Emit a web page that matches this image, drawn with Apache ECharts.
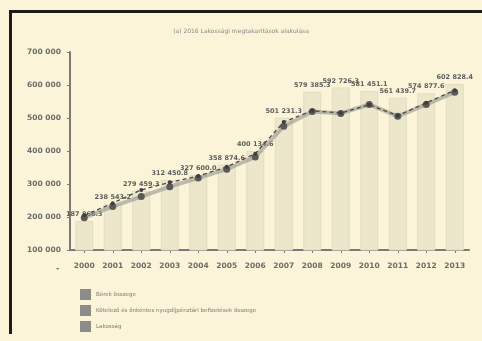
<!DOCTYPE html>
<html>
<head>
<meta charset="utf-8">
<script src="https://cdn.jsdelivr.net/npm/echarts@6/dist/echarts.min.js"></script>
<style>
  html, body { margin: 0; padding: 0; background: #fbf4d8; }
  #frame { position: absolute; left: 9px; top: 10px; width: 478px; height: 324px;
           border-left: 3px solid #1c1c1c; border-top: 3px solid #1c1c1c; box-sizing: border-box; }
  #chart { position: absolute; left: 0; top: 0; width: 482px; height: 341px; }
</style>
</head>
<body>
<div id="frame"></div>
<div id="chart"></div>
<script>
// Years on the category axis
const years = ['2000','2001','2002','2003','2004','2005','2006','2007','2008','2009','2010','2011','2012','2013'];

// Column series (labelled values)
const berek = [187868.3, 238543.2, 279459.3, 312450.8, 327600.0, 358874.6, 400134.6, 501231.3, 579385.3, 592726.3, 581451.1, 561439.7, 574877.6, 602828.4];

// Solid line with round markers
const nyugdij = [198000, 232000, 262000, 292000, 318000, 345000, 382000, 475000, 520000, 514000, 541000, 505000, 541000, 578000];

// Dashed line
const lakossag = [205000, 242000, 282000, 305000, 324000, 352000, 392000, 488000, 522000, 515000, 540000, 507000, 546000, 584000];

// Axis tick values
const yMin = 100000, yMax = 700000, yStep = 100000;

const seriesNames = [
  'Bérek összege',
  'Kötelező és önkéntes nyugdíjpénztári befizetések összege',
  'Lakosság'
];

function fmt(v, dec) {
  const s = v.toFixed(dec);
  const parts = s.split('.');
  const intPart = parts[0].replace(/\B(?=(\d{3})+(?!\d))/g, ' ');
  return parts.length > 1 ? intPart + '.' + parts[1] : intPart;
}

const chart = echarts.init(document.getElementById('chart'), null, { renderer: 'canvas' });
const axisGrey = '#7a7a78';
const textGrey = '#6c6c6a';

chart.setOption({
  backgroundColor: 'transparent',
  animation: false,
  title: {
    text: '(a) 2016 Lakossági megtakarítások alakulása',
    left: 'center', top: 23,
    textStyle: { fontFamily: 'DejaVu Sans', fontSize: 6, fontWeight: 'normal', color: '#8a8a86' }
  },
  grid: { left: 70, right: 13, top: 52, bottom: 91 },
  legend: {
    orient: 'vertical', left: 75, top: 284,
    itemWidth: 11, itemHeight: 11, itemGap: 5,
    textStyle: { fontFamily: 'DejaVu Sans', fontSize: 5.5, color: '#7c7c78' },
    data: seriesNames.map(n => ({ name: n, icon: 'rect', itemStyle: { color: '#8c8c8a', borderWidth: 0 } }))
  },
  xAxis: {
    type: 'category', data: years,
    axisLine: { lineStyle: { color: axisGrey, width: 2 } },
    axisTick: { show: true, alignWithLabel: true, length: 3, lineStyle: { color: axisGrey } },
    axisLabel: { interval: 0, fontFamily: 'DejaVu Sans', fontSize: 7.5, fontWeight: 'bold', color: textGrey, margin: 12 }
  },
  yAxis: {
    type: 'value', min: yMin, max: yMax, interval: yStep,
    axisLine: { show: true, lineStyle: { color: axisGrey, width: 2 } },
    axisTick: { show: true, length: 3, lineStyle: { color: axisGrey } },
    splitLine: { show: false },
    axisLabel: { fontFamily: 'DejaVu Sans', fontSize: 7.5, fontWeight: 'bold', color: textGrey, margin: 9,
                 formatter: v => fmt(v, 0) }
  },
  graphic: [{
    type: 'text', left: 56, top: 265,
    style: { text: '-', fontFamily: 'DejaVu Sans', fontSize: 8, fontWeight: 'bold', fill: textGrey }
  }],
  series: [
    {
      name: seriesNames[0], type: 'bar', data: berek, barWidth: 18,
      itemStyle: { color: '#ece6cb', borderColor: '#e2dcc2', borderWidth: 1 },
      label: {
        show: true, position: 'top', distance: 3,
        fontFamily: 'DejaVu Sans', fontSize: 6.5, fontWeight: 'bold', color: '#5e5e5c',
        formatter: p => fmt(p.value, 1)
      },
      z: 1
    },
    {
      name: seriesNames[1], type: 'line', data: nyugdij,
      symbol: 'circle', symbolSize: 7,
      lineStyle: { color: 'rgba(140,140,136,0.55)', width: 4 },
      itemStyle: { color: '#5a5a58' },
      z: 3
    },
    {
      name: seriesNames[2], type: 'line', data: lakossag,
      symbol: 'circle', symbolSize: 4,
      lineStyle: { color: '#4a4a48', width: 1.3, type: [4, 3] },
      itemStyle: { color: '#3e3e3c' },
      z: 4
    }
  ]
});
</script>
</body>
</html>
